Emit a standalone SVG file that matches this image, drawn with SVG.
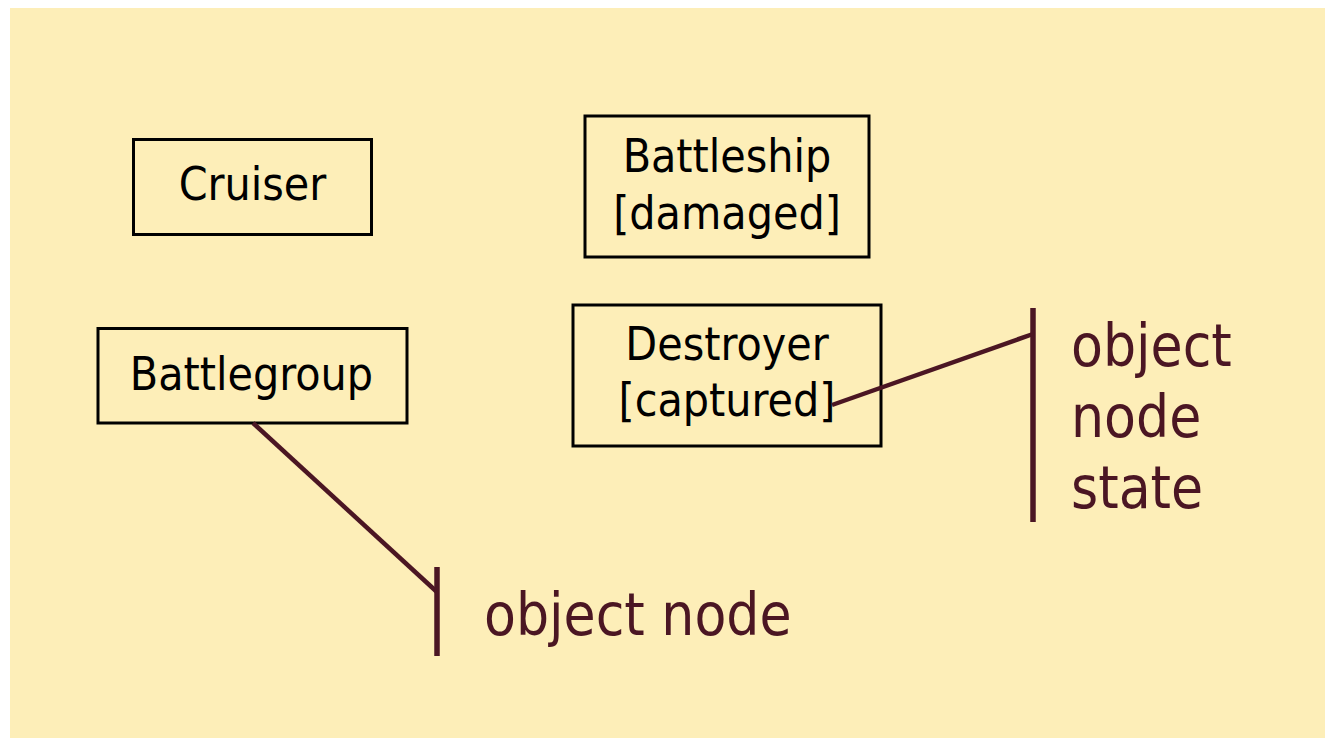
<svg xmlns="http://www.w3.org/2000/svg" width="1325" height="738" viewBox="0 0 1325 738">
  <style>
    .node rect { fill: none; stroke: #000; stroke-width: 3; }
    .node text { font-family: "DejaVu Sans Condensed", "DejaVu Sans", sans-serif; font-size: 46px; fill: #000; text-anchor: middle; }
    .note { font-family: "DejaVu Sans Condensed", "DejaVu Sans", sans-serif; font-size: 58px; fill: #4b1623; }
    .conn line { stroke: #4b1623; stroke-width: 4.5; fill: none; }
    .conn .bar { stroke-width: 5.5; }
  </style>
  <rect x="10" y="8" width="1315" height="730" fill="#fdeeb8"/>

  <g id="cruiser" class="node">
    <rect x="133.5" y="139.5" width="238" height="95"/>
    <text x="252.5" y="200">Cruiser</text>
  </g>
  <g id="battleship" class="node">
    <rect x="585" y="116" width="284" height="141"/>
    <text x="727" y="172">Battleship</text>
    <text x="727" y="229">[damaged]</text>
  </g>
  <g id="battlegroup" class="node">
    <rect x="98" y="328.5" width="309" height="94.5"/>
    <text x="251.5" y="390">Battlegroup</text>
  </g>
  <g id="destroyer" class="node">
    <rect x="573" y="305" width="308" height="141"/>
    <text x="727" y="360">Destroyer</text>
    <text x="727" y="416">[captured]</text>
  </g>

  <g id="connectors" class="conn">
    <line x1="253" y1="423" x2="437" y2="592"/>
    <line class="bar" x1="437" y1="567" x2="437" y2="656"/>
    <line x1="832" y1="405" x2="1033" y2="334"/>
    <line class="bar" x1="1033" y1="308" x2="1033" y2="522"/>
  </g>

  <g id="labels">
    <text class="note" x="484" y="635">object node</text>
    <text class="note" x="1071" y="366">object</text>
    <text class="note" x="1071" y="437">node</text>
    <text class="note" x="1071" y="508">state</text>
  </g>
</svg>
